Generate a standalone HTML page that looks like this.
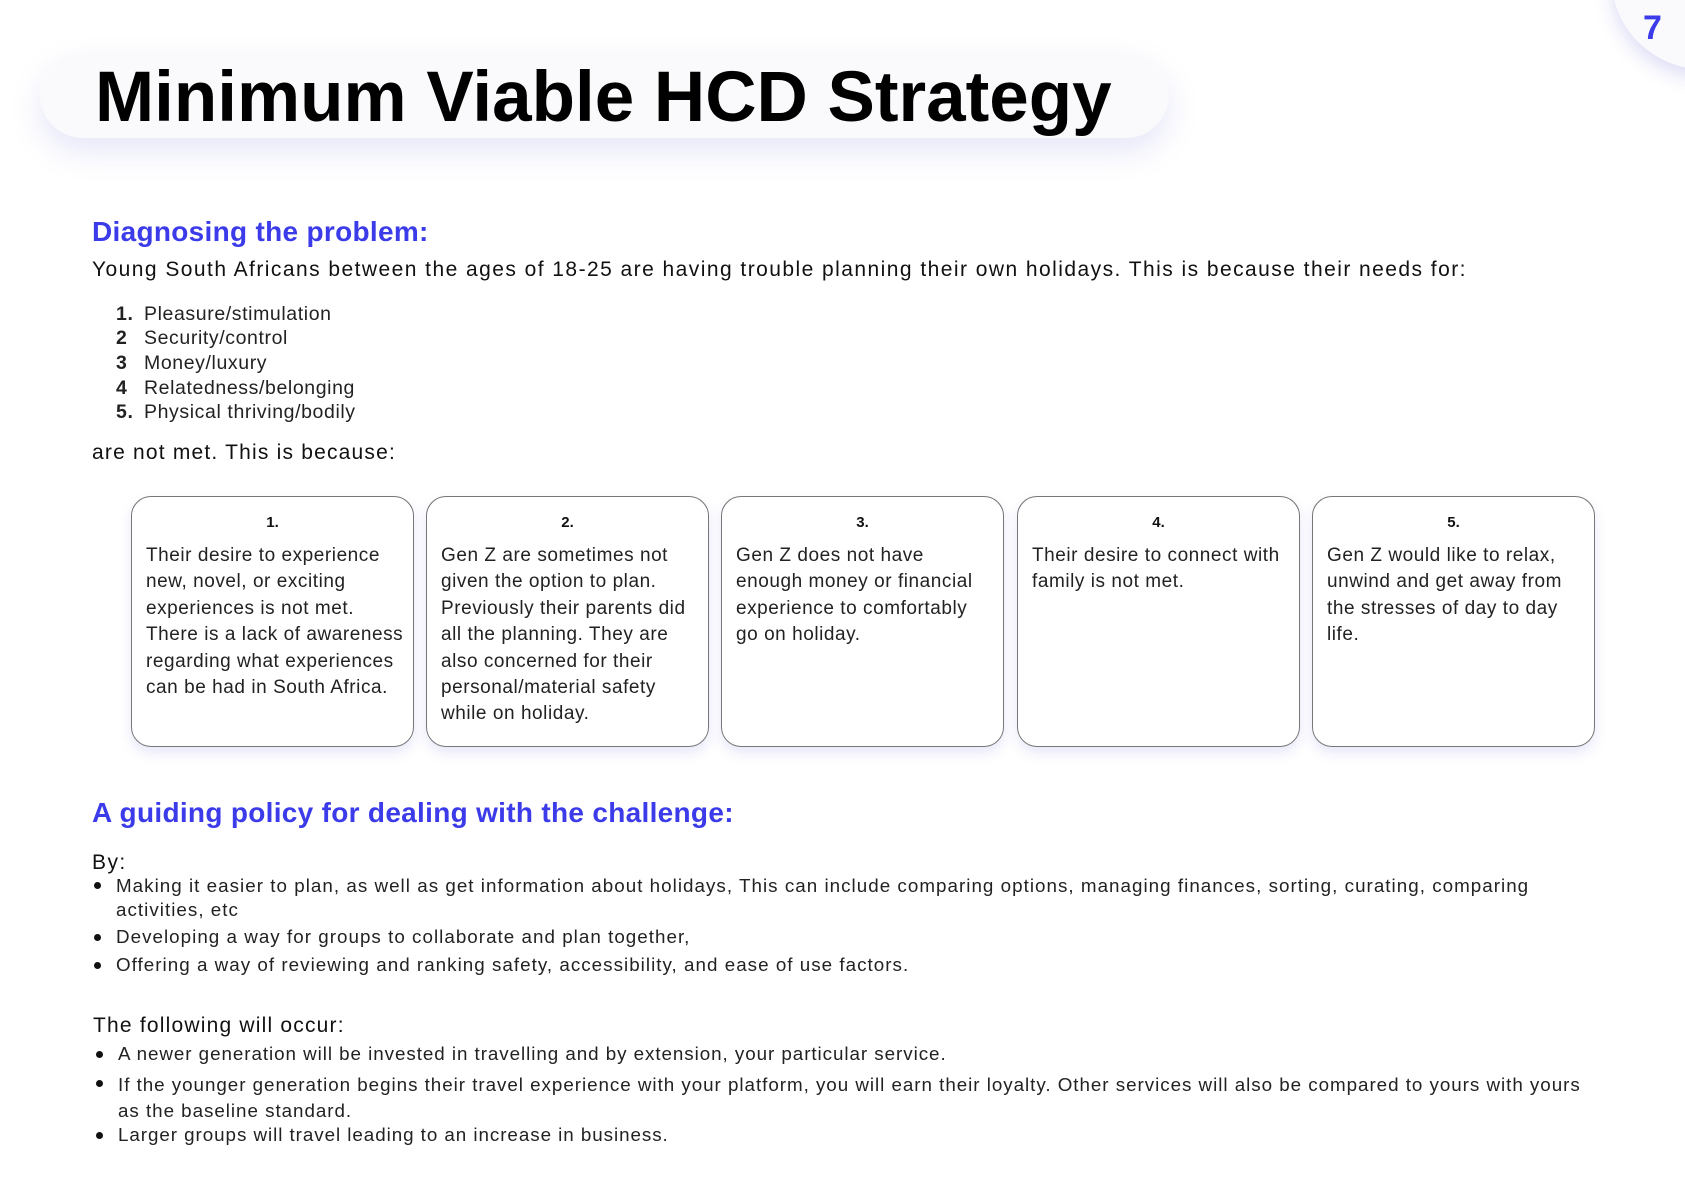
<!DOCTYPE html>
<html><head><meta charset="utf-8">
<style>
*{margin:0;padding:0;box-sizing:border-box}
body{width:1685px;height:1192px;background:#fff;position:relative;overflow:hidden;font-family:"Liberation Sans",sans-serif;color:#111}
.abs{position:absolute;white-space:nowrap}
#pill{left:40px;top:52px;width:1129px;height:86px;border-radius:43px;background:#fafafc;box-shadow:0 14px 30px rgba(120,120,220,0.18)}
#title{left:95px;top:58px;font-size:71px;font-weight:bold;color:#000;line-height:80px}
#clip{left:1560px;top:0;width:125px;height:110px;overflow:hidden}
#pg{position:absolute;left:52px;top:-110px;width:190px;height:180px;border-radius:50%;background:#fafafc;box-shadow:0 8px 18px rgba(120,120,220,0.25)}
#pgn{left:1643px;top:9px;font-size:34px;font-weight:bold;color:#3b3bea}
.h{font-size:28px;font-weight:bold;color:#3b3bea;letter-spacing:0.3px}
.p{font-size:21px;color:#111;letter-spacing:1.45px}
.li{font-size:19.5px;color:#222;letter-spacing:0.6px}
.card{position:absolute;top:496px;width:283px;height:251px;border:1px solid #777;border-radius:20px;background:#fff;box-shadow:0 6px 12px rgba(120,120,220,0.18)}
.card .n{position:absolute;top:17px;left:0;width:100%;text-align:center;font-size:15px;font-weight:bold}
.card .t{position:absolute;top:46px;left:14px;font-size:19px;line-height:26.4px;color:#222;white-space:nowrap;letter-spacing:0.55px}
.b{font-size:18.8px;color:#222;letter-spacing:1.03px}
.dot{position:absolute;width:7px;height:7px;border-radius:50%;background:#111}
</style></head><body>
<div id="pill" class="abs"></div>
<div id="title" class="abs">Minimum Viable HCD Strategy</div>
<div id="clip" class="abs"><div id="pg"></div></div>
<div id="pgn" class="abs">7</div>

<div class="abs h" style="left:92px;top:216px">Diagnosing the problem:</div>
<div class="abs p" style="left:92px;top:258px">Young South Africans between the ages of 18-25 are having trouble planning their own holidays. This is because their needs for:</div>

<div>
<div class="abs li" style="left:116px;top:303px"><b>1.</b><span style="position:absolute;left:28px">Pleasure/stimulation</span></div>
<div class="abs li" style="left:116px;top:327px"><b>2</b><span style="position:absolute;left:28px">Security/control</span></div>
<div class="abs li" style="left:116px;top:352px"><b>3</b><span style="position:absolute;left:28px">Money/luxury</span></div>
<div class="abs li" style="left:116px;top:377px"><b>4</b><span style="position:absolute;left:28px">Relatedness/belonging</span></div>
<div class="abs li" style="left:116px;top:401px"><b>5.</b><span style="position:absolute;left:28px">Physical thriving/bodily</span></div>
</div>

<div class="abs p" style="left:92px;top:441px;letter-spacing:1.2px">are not met. This is because:</div>

<div class="card" style="left:131px"><div class="n">1.</div><div class="t">Their desire to experience<br>new, novel, or exciting<br>experiences is not met.<br>There is a lack of awareness<br>regarding what experiences<br>can be had in South Africa.</div></div>
<div class="card" style="left:426px"><div class="n">2.</div><div class="t">Gen Z are sometimes not<br>given the option to plan.<br>Previously their parents did<br>all the planning. They are<br>also concerned for their<br>personal/material safety<br>while on holiday.</div></div>
<div class="card" style="left:721px"><div class="n">3.</div><div class="t">Gen Z does not have<br>enough money or financial<br>experience to comfortably<br>go on holiday.</div></div>
<div class="card" style="left:1017px"><div class="n">4.</div><div class="t">Their desire to connect with<br>family is not met.</div></div>
<div class="card" style="left:1312px"><div class="n">5.</div><div class="t">Gen Z would like to relax,<br>unwind and get away from<br>the stresses of day to day<br>life.</div></div>

<div class="abs h" style="left:92px;top:797px">A guiding policy for dealing with the challenge:</div>
<div class="abs p" style="left:92px;top:851px">By:</div>

<div class="dot" style="left:94px;top:882px"></div>
<div class="abs b" style="left:116px;top:874px;line-height:24px">Making it easier to plan, as well as get information about holidays, This can include comparing options, managing finances, sorting, curating, comparing<br>activities, etc</div>
<div class="dot" style="left:94px;top:934px"></div>
<div class="abs b" style="left:116px;top:926px">Developing a way for groups to collaborate and plan together,</div>
<div class="dot" style="left:94px;top:962px"></div>
<div class="abs b" style="left:116px;top:954px">Offering a way of reviewing and ranking safety, accessibility, and ease of use factors.</div>

<div class="abs p" style="left:93px;top:1014px;letter-spacing:1.2px">The following will occur:</div>
<div class="dot" style="left:96px;top:1051px"></div>
<div class="abs b" style="left:118px;top:1043px;letter-spacing:0.95px">A newer generation will be invested in travelling and by extension, your particular service.</div>
<div class="dot" style="left:96px;top:1080px"></div>
<div class="abs b" style="left:118px;top:1072px;line-height:26px;letter-spacing:0.97px">If the younger generation begins their travel experience with your platform, you will earn their loyalty. Other services will also be compared to yours with yours<br>as the baseline standard.</div>
<div class="dot" style="left:96px;top:1132px"></div>
<div class="abs b" style="left:118px;top:1124px;letter-spacing:0.95px">Larger groups will travel leading to an increase in business.</div>
</body></html>
